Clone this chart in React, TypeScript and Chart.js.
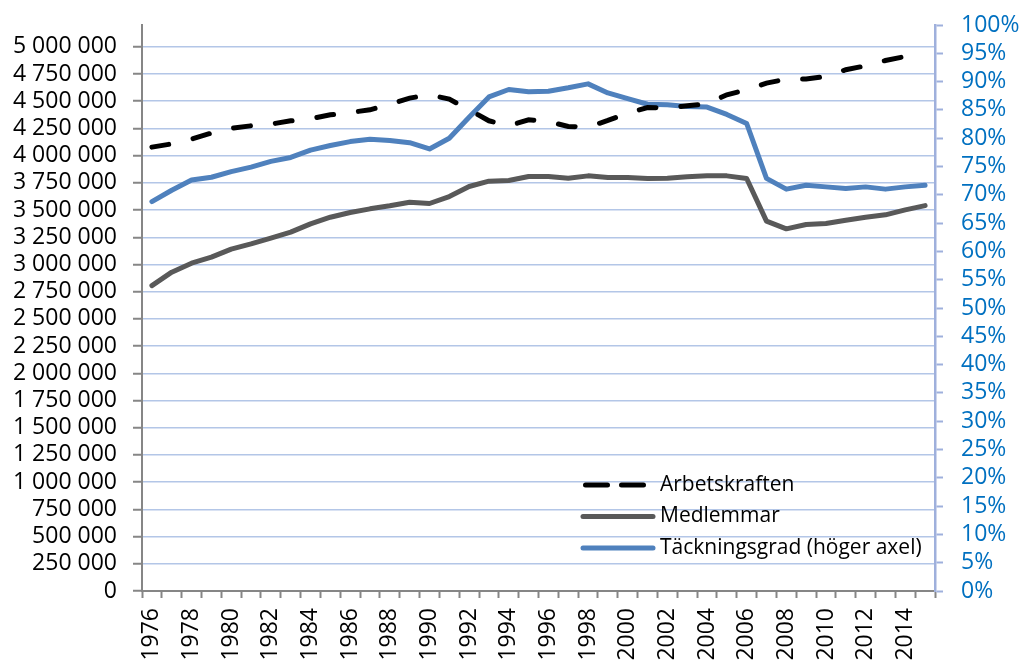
import React, { useEffect, useRef } from "react";
import { Chart, registerables } from "chart.js";

Chart.register(...registerables);

const years = [
  "1976", "1977", "1978", "1979", "1980", "1981", "1982", "1983", "1984", "1985",
  "1986", "1987", "1988", "1989", "1990", "1991", "1992", "1993", "1994", "1995",
  "1996", "1997", "1998", "1999", "2000", "2001", "2002", "2003", "2004", "2005",
  "2006", "2007", "2008", "2009", "2010", "2011", "2012", "2013", "2014", "2015",
];

const arbetskraften = [
  4078000, 4108000, 4152000, 4207000, 4252000, 4274000, 4289000, 4320000, 4338000, 4375000,
  4396000, 4421000, 4473000, 4528000, 4559000, 4519000, 4421000, 4320000, 4274000, 4329000,
  4313000, 4268000, 4262000, 4323000, 4390000, 4442000, 4436000, 4458000, 4476000, 4559000,
  4605000, 4666000, 4703000, 4703000, 4727000, 4789000, 4825000, 4874000, 4911000, 4942000,
];

const medlemmar = [
  2806000, 2929000, 3012000, 3067000, 3141000, 3189000, 3242000, 3297000, 3373000, 3434000,
  3477000, 3511000, 3539000, 3572000, 3560000, 3624000, 3716000, 3765000, 3771000, 3808000,
  3808000, 3793000, 3814000, 3799000, 3799000, 3790000, 3793000, 3805000, 3814000, 3814000,
  3790000, 3398000, 3327000, 3367000, 3376000, 3407000, 3434000, 3456000, 3502000, 3541000,
];

const tackningsgrad = [
  68.8, 70.8, 72.6, 73.1, 74.1, 74.9, 75.9, 76.6, 77.9, 78.7,
  79.4, 79.8, 79.6, 79.2, 78.1, 80.0, 83.7, 87.3, 88.6, 88.2,
  88.3, 88.9, 89.6, 88.0, 87.0, 86.0, 85.9, 85.6, 85.5, 84.2,
  82.6, 72.9, 71.0, 71.7, 71.4, 71.1, 71.4, 71.0, 71.4, 71.7,
];

const seriesLabels = ["Arbetskraften", "Medlemmar", "Täckningsgrad (höger axel)"];

const leftTickValues = [
  0, 250000, 500000, 750000, 1000000, 1250000, 1500000, 1750000, 2000000, 2250000,
  2500000, 2750000, 3000000, 3250000, 3500000, 3750000, 4000000, 4250000, 4500000,
  4750000, 5000000,
];
const LEFT_MAX = 5200000;

const FONT = "'Open Sans', 'Liberation Sans', sans-serif";
const AXIS_FONT_SIZE = 23;

function fmtThousands(v: number): string {
  const s = Math.round(v).toString();
  return s.replace(/\B(?=(\d{3})+(?!\d))/g, " ");
}

const legendPlugin = {
  id: "innerLegend",
  afterDraw(chart: any) {
    const ctx = chart.ctx;
    const x0 = 585.5;
    const x1 = 645;
    const tx = 660;
    const y0 = 485;
    const dy = 31.5;
    chart.data.datasets.forEach((ds: any, i: number) => {
      const y = y0 + i * dy;
      ctx.save();
      ctx.beginPath();
      ctx.strokeStyle = ds.borderColor;
      ctx.lineWidth = ds.borderWidth;
      ctx.lineCap = "round";
      ctx.setLineDash(ds.borderDash ? [22, 14] : []);
      ctx.moveTo(ds.borderDash ? x0 : 583, y);
      ctx.lineTo(ds.borderDash ? x1 : 653, y);
      ctx.stroke();
      ctx.setLineDash([]);
      ctx.fillStyle = "#000";
      ctx.font = `21px ${FONT}`;
      ctx.textBaseline = "middle";
      ctx.textAlign = "left";
      ctx.fillText(ds.label, tx, y);
      ctx.restore();
    });
  },
};

export default function App() {
  const ref = useRef<HTMLCanvasElement | null>(null);

  useEffect(() => {
    if (!ref.current) return;
    const chart = new Chart(ref.current, {
      type: "line",
      data: {
        labels: years,
        datasets: [
          {
            label: seriesLabels[0],
            data: arbetskraften,
            yAxisID: "y",
            borderColor: "#000000",
            backgroundColor: "#000000",
            borderWidth: 5,
            borderDash: [17, 25],
            borderCapStyle: "round",
            pointRadius: 0,
            tension: 0,
          },
          {
            label: seriesLabels[1],
            data: medlemmar,
            yAxisID: "y",
            borderColor: "#595959",
            backgroundColor: "#595959",
            borderWidth: 5,
            borderCapStyle: "round",
            borderJoinStyle: "round",
            pointRadius: 0,
            tension: 0,
          },
          {
            label: seriesLabels[2],
            data: tackningsgrad,
            yAxisID: "y2",
            borderColor: "#4F81BD",
            backgroundColor: "#4F81BD",
            borderWidth: 5,
            borderCapStyle: "round",
            borderJoinStyle: "round",
            pointRadius: 0,
            tension: 0,
          },
        ],
      },
      options: {
        animation: false,
        responsive: false,
        layout: { padding: { top: 25, left: 0, right: 0, bottom: 0 } },
        plugins: {
          legend: { display: false },
          tooltip: { enabled: false },
        },
        scales: {
          x: {
            type: "category",
            offset: true,
            grid: {
              offset: true,
              drawOnChartArea: false,
              drawTicks: true,
              tickLength: 7,
              tickColor: "#868686",
              tickWidth: 2,
            },
            border: { color: "#868686", width: 2 },
            ticks: {
              autoSkip: false,
              maxRotation: 90,
              minRotation: 90,
              padding: 10,
              color: "#000",
              font: { family: FONT, size: AXIS_FONT_SIZE },
              callback: function (_v: any, i: number) {
                return i % 2 === 0 ? years[i] : "";
              },
            },
            afterFit: (scale: any) => {
              scale.height = 71;
              scale.paddingLeft = 0;
              scale.paddingRight = 0;
            },
          },
          y: {
            position: "left",
            min: 0,
            max: LEFT_MAX,
            afterBuildTicks: (scale: any) => {
              scale.ticks = leftTickValues.map((v) => ({ value: v }));
            },
            ticks: {
              autoSkip: false,
              padding: 16,
              color: "#000",
              font: { family: FONT, size: AXIS_FONT_SIZE },
              callback: (v: any) => fmtThousands(Number(v)),
            },
            grid: {
              color: "#B3C6E7",
              lineWidth: 1.5,
              drawTicks: true,
              tickLength: 9,
              tickColor: "#868686",
              tickWidth: 2,
            },
            border: { color: "#868686", width: 2 },
            afterFit: (scale: any) => {
              scale.width = 142;
              scale.paddingTop = 0;
              scale.paddingBottom = 0;
            },
          },
          y2: {
            position: "right",
            min: 0,
            max: 100,
            ticks: {
              stepSize: 5,
              autoSkip: false,
              maxTicksLimit: 100,
              padding: 18,
              color: "#0070C0",
              font: { family: FONT, size: AXIS_FONT_SIZE },
              callback: (v: any) => `${v}%`,
            },
            grid: {
              drawOnChartArea: false,
              drawTicks: true,
              tickLength: 8,
              tickColor: "#9FB0DC",
              tickWidth: 2,
            },
            border: { color: "#9FB0DC", width: 2.5 },
            afterFit: (scale: any) => {
              scale.width = 87;
              scale.paddingTop = 0;
              scale.paddingBottom = 0;
            },
          },
        },
      },
      plugins: [legendPlugin],
    } as any);
    return () => chart.destroy();
  }, []);

  return (
    <div style={{ position: "fixed", left: 0, top: 0, width: 1022, height: 662, background: "#fff" }}>
      <canvas ref={ref} width={1022} height={662} style={{ width: 1022, height: 662 }} />
    </div>
  );
}
